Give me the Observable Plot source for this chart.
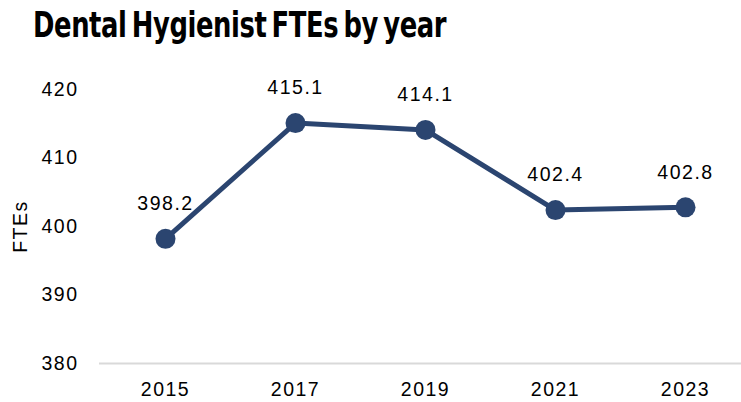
<!DOCTYPE html>
<html><head><meta charset="utf-8">
<script src="https://cdn.jsdelivr.net/npm/d3@7"></script>
<script src="https://cdn.jsdelivr.net/npm/@observablehq/plot@0.6"></script>
<style>
body{margin:0;background:#fff;}
#title{height:50px;line-height:50px;padding-left:33px;white-space:nowrap;}
#title span{display:inline-block;font-family:'DejaVu Sans Condensed','DejaVu Sans';font-weight:bold;font-size:35px;color:#000;letter-spacing:-0.5px;word-spacing:-4px;transform:scaleX(0.82);transform-origin:left center;}
</style></head><body>
<div id="title"><span>Dental Hygienist FTEs by year</span></div>
<div id="chart"></div>
<script>
const years = ["2015", "2017", "2019", "2021", "2023"];
const ftes = [398.2, 415.1, 414.1, 402.4, 402.8];
const yTicks = [380, 390, 400, 410, 420];
const yLabel = "FTEs";
const data = years.map((year, i) => ({year, fte: ftes[i]}));
const color = "#2b4570";
const chart = Plot.plot({
  width: 741, height: 352,
  marginTop: 39, marginBottom: 39, marginLeft: 99, marginRight: 0,
  style: {fontFamily: "'Liberation Sans', Arial, sans-serif", fontSize: "19.5px", color: "#000", letterSpacing: "1.5px", background: "#fff"},
  x: {type: "point", domain: years, padding: 0.5, range: [99, 751], tickSize: 0, tickPadding: 19, label: null},
  y: {domain: [380, 420], ticks: yTicks, tickSize: 0, tickPadding: 21, label: null},
  marks: [
    Plot.ruleY([380], {stroke: "#d9d9d9", strokeWidth: 2}),
    Plot.text([yLabel], {frameAnchor: "left", textAnchor: "middle", rotate: -90, dx: -79, fontSize: 19.5, fill: "#000", text: d => d}),
    Plot.line(data, {x: "year", y: "fte", stroke: color, strokeWidth: 5}),
    Plot.dot(data, {x: "year", y: "fte", r: 10, fill: color, stroke: null}),
    Plot.text(data, {x: "year", y: "fte", text: d => d.fte.toFixed(1), dy: -35, fontSize: 19.5, fill: "#000"})
  ]
});
document.getElementById("chart").appendChild(chart);
</script>
</body></html>
